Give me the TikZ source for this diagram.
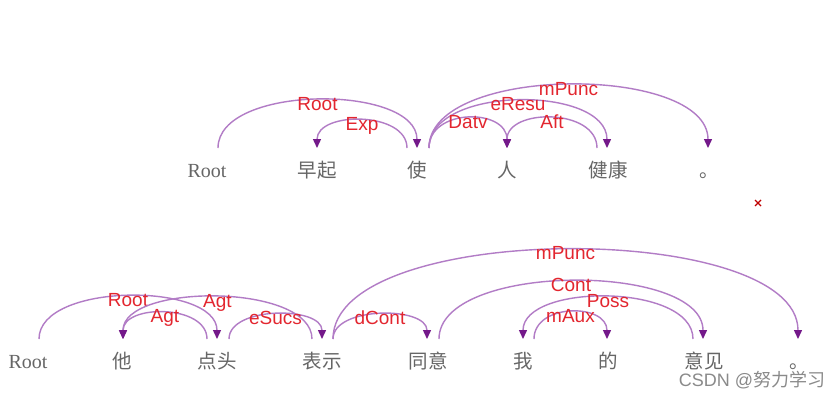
\documentclass[tikz,border=0pt]{standalone}
\usepackage{fontspec}
\setmainfont{Liberation Serif}
\newfontfamily\cjk{Noto Sans CJK SC}
\newfontfamily\lab{Liberation Sans}
\usetikzlibrary{arrows.meta,calc}
\definecolor{arcc}{HTML}{B27CC6}
\definecolor{tipc}{HTML}{74198A}
\definecolor{labc}{HTML}{E3262F}
\definecolor{wordc}{HTML}{666666}
\definecolor{wmc}{HTML}{8A8A8A}
\begin{document}
\begin{tikzpicture}[x=1pt,y=-1pt,
  tok/.style={anchor=base, inner sep=0pt, text=wordc, font=\fontsize{20}{22}\selectfont},
  tokc/.style={tok, font=\cjk\fontsize{19.5}{21}\selectfont},
  deparc/.style={draw=arcc, line width=1.4pt},
  deptip/.style={deparc, -{Triangle[width=8pt,length=9pt,color=tipc,fill=tipc]}},
  deplab/.style={pos=0.5, anchor=base, yshift=-10pt, inner sep=0pt, text=labc, font=\lab\fontsize{19}{20}\selectfont}]
\fill[white] (0,0) rectangle (838,402);
% ---------- top sentence ----------
\node[tok]  (a0) at (207,177) {Root};
\node[tokc] (a1) at (317,177) {早起};
\node[tokc] (a2) at (417,177) {使};
\node[tokc] (a3) at (507,177) {人};
\node[tokc] (a4) at (608,177) {健康};
\node[tokc] (a5) at (709,177) {。};
\draw[deptip] ($(a0.base)+(11,-29)$) .. controls +(0,-64) and +(0,-64) .. ($(a2.base)+(0,-29)$) node[deplab]{Root};
\draw[deptip] ($(a2.base)+(-10,-29)$) .. controls +(0,-37) and +(0,-37) .. ($(a1.base)+(0,-29)$) node[deplab]{Exp};
\draw[deptip] ($(a2.base)+(12,-29)$) .. controls +(0,-84) and +(0,-84) .. ($(a5.base)+(-1,-29)$) node[deplab]{mPunc};
\draw[deptip] ($(a2.base)+(12,-29)$) .. controls +(0,-63) and +(0,-63) .. ($(a4.base)+(-1,-29)$) node[deplab]{eResu};
\draw[deptip] ($(a2.base)+(12,-29)$) .. controls +(0,-40) and +(0,-40) .. ($(a3.base)+(0,-29)$) node[deplab]{Datv};
\draw[deptip] ($(a4.base)+(-11,-29)$) .. controls +(0,-40) and +(0,-40) .. ($(a3.base)+(0,-29)$) node[deplab]{Aft};
% ---------- bottom sentence ----------
\node[tok]  (b0) at (28,368) {Root};
\node[tokc] (b1) at (122,368) {他};
\node[tokc] (b2) at (217,368) {点头};
\node[tokc] (b3) at (322,368) {表示};
\node[tokc] (b4) at (428,368) {同意};
\node[tokc] (b5) at (523,368) {我};
\node[tokc] (b6) at (608,368) {的};
\node[tokc] (b7) at (704,368) {意见};
\node[tokc] (b8) at (799,368) {。};
\draw[deptip] ($(b0.base)+(11,-29)$) .. controls +(0,-57) and +(0,-57) .. ($(b2.base)+(0,-29)$) node[deplab]{Root};
\draw[deptip] ($(b3.base)+(-10,-29)$) .. controls +(0,-56) and +(0,-56) .. ($(b1.base)+(1,-29)$) node[deplab]{Agt};
\draw[deptip] ($(b2.base)+(-10,-29)$) .. controls +(0,-35) and +(0,-35) .. ($(b1.base)+(1,-29)$) node[deplab]{Agt};
\draw[deptip] ($(b2.base)+(12,-29)$) .. controls +(0,-33) and +(0,-33) .. ($(b3.base)+(0,-29)$) node[deplab]{eSucs};
\draw[deptip] ($(b3.base)+(11,-29)$) .. controls +(0,-33) and +(0,-33) .. ($(b4.base)+(-1,-29)$) node[deplab]{dCont};
\draw[deptip] ($(b3.base)+(11,-29)$) .. controls +(0,-119) and +(0,-119) .. ($(b8.base)+(-1,-29)$) node[deplab]{mPunc};
\draw[deptip] ($(b4.base)+(11,-29)$) .. controls +(0,-77) and +(0,-77) .. ($(b7.base)+(-1,-29)$) node[deplab]{Cont};
\draw[deptip] ($(b7.base)+(-11,-29)$) .. controls +(0,-56) and +(0,-56) .. ($(b5.base)+(0,-29)$) node[deplab]{Poss};
\draw[deptip] ($(b5.base)+(11,-29)$) .. controls +(0,-36) and +(0,-36) .. ($(b6.base)+(-1,-29)$) node[deplab]{mAux};
% ---------- small mark and watermark ----------
\draw[red!75!black, line width=1.2pt] (755,200) -- (761,206) (755,206) -- (761,200);
\node[anchor=base, inner sep=0pt, text=wmc, font=\lab\fontsize{18}{20}\selectfont] (wm) at (752,386) {CSDN @{\cjk 努力学习}};
\end{tikzpicture}
\end{document}
